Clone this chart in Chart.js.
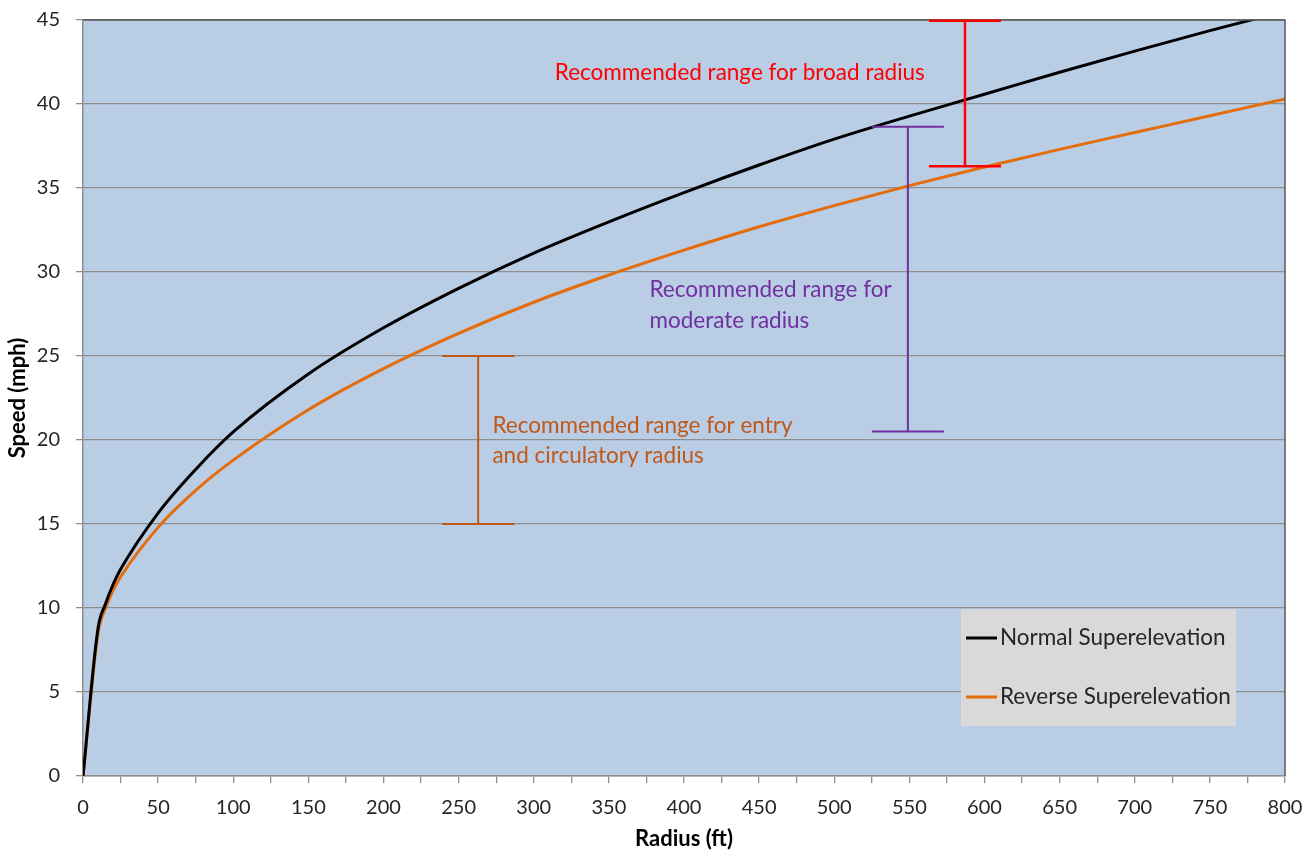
<!DOCTYPE html>
<html>
<head>
<meta charset="utf-8">
<script src="https://cdn.jsdelivr.net/npm/chart.js@4/dist/chart.umd.min.js"></script>
<style>
  html, body { margin: 0; padding: 0; background: #fff; }
  #wrap { width: 1312px; height: 854px; }
</style>
</head>
<body>
<div id="wrap"><canvas id="chart" width="1312" height="854"></canvas></div>
<script>
/* ---- data ---- */
const RADIUS = [0, 10, 15, 20, 25, 50, 75, 100, 150, 200, 250, 300, 350, 400, 450, 500, 550, 600, 650, 700, 750, 800];
const SPEED_NORMAL = [0, 8.8, 10.25, 11.4, 12.3, 15.65, 18.25, 20.48, 23.93, 26.68, 29.03, 31.13, 32.99, 34.73, 36.37, 37.91, 39.28, 40.58, 41.89, 43.15, 44.37, 45.52];
const SPEED_REVERSE = [0, 8.5, 10.0, 11.05, 11.85, 14.8, 17.0, 18.8, 21.8, 24.25, 26.35, 28.2, 29.82, 31.3, 32.69, 33.95, 35.14, 36.25, 37.3, 38.3, 39.3, 40.3];
const SERIES_NAMES = ['Normal Superelevation', 'Reverse Superelevation'];

// recommended ranges (vertical I-bars)
const RANGE_RADIUS = [263, 549, 587];
const RANGE_LOW = [15, 20.5, 36.3];
const RANGE_HIGH = [25, 38.65, 44.95];
const RANGE_LABELS = [
    ['Recommended range for entry', 'and circulatory radius'],
    ['Recommended range for', 'moderate radius'],
    ['Recommended range for broad radius']
];

const X_MIN = 0, X_MAX = 800, X_STEP = 25;
const Y_MIN = 0, Y_MAX = 45, Y_STEP = 5;

/* ---- styles ---- */
const FONT = 'Lato';
const LINE_COLORS = ['#000000', '#E46C0A'];
const RANGE_COLORS = ['#C0581A', '#7030A0', '#FF0000'];
const RANGE_WIDTHS = [2, 2, 2.5];
// where each note's first line starts (x, y in data units)
const NOTE_ANCHORS = [[272.5, 20.85], [377, 28.93], [314, 41.86]];
const PLOT_BG = '#B9CDE5';
const GRID = '#8E8E8E';

Chart.defaults.font.family = FONT;

const toPoints = (xs, ys) => xs.map((x, i) => ({ x, y: ys[i] }));

/* ---- plugins ---- */
const plotArea = {
    id: 'plotArea',
    beforeDraw(chart) {
        const { ctx, chartArea: a } = chart;
        ctx.save();
        ctx.fillStyle = PLOT_BG;
        ctx.fillRect(a.left, a.top, a.right - a.left, a.bottom - a.top);
        ctx.restore();
    },
    afterDatasetsDraw(chart) {
        const { ctx, chartArea: a } = chart;
        ctx.save();
        ctx.strokeStyle = '#5a5a5a';
        ctx.lineWidth = 1.5;
        ctx.beginPath();
        ctx.moveTo(a.left, a.top); ctx.lineTo(a.right, a.top); ctx.lineTo(a.right, a.bottom);
        ctx.stroke();
        ctx.restore();
    }
};

const rangeBars = {
    id: 'rangeBars',
    afterDatasetsDraw(chart) {
        const { ctx, scales: { x, y } } = chart;
        const capHalf = 36;
        ctx.save();
        RANGE_RADIUS.forEach((r, i) => {
            const px = x.getPixelForValue(r);
            const lo = y.getPixelForValue(RANGE_LOW[i]);
            const hi = y.getPixelForValue(RANGE_HIGH[i]);
            ctx.strokeStyle = RANGE_COLORS[i];
            ctx.lineWidth = RANGE_WIDTHS[i];
            ctx.beginPath();
            ctx.moveTo(px, lo); ctx.lineTo(px, hi);
            ctx.moveTo(px - capHalf, lo); ctx.lineTo(px + capHalf, lo);
            ctx.moveTo(px - capHalf, hi); ctx.lineTo(px + capHalf, hi);
            ctx.stroke();
        });
        // notes
        ctx.font = '22.5px ' + FONT;
        ctx.textAlign = 'left';
        ctx.textBaseline = 'middle';
        RANGE_LABELS.forEach((lines, i) => {
            const [ax, ay] = NOTE_ANCHORS[i];
            const px = x.getPixelForValue(ax);
            const py = y.getPixelForValue(ay);
            ctx.fillStyle = RANGE_COLORS[i];
            lines.forEach((t, k) => ctx.fillText(t, px, py + k * 30.5));
        });
        ctx.restore();
    }
};

const boxLegend = {
    id: 'boxLegend',
    afterDraw(chart) {
        const { ctx, chartArea: a } = chart;
        const w = 275, h = 117;
        const left = a.right - 49 - w, top = a.bottom - 50 - h;
        ctx.save();
        ctx.fillStyle = '#D9D9D9';
        ctx.fillRect(left, top, w, h);
        ctx.font = '22.5px ' + FONT;
        ctx.textBaseline = 'middle';
        ctx.textAlign = 'left';
        chart.data.datasets.forEach((ds, i) => {
            const ly = top + 29 + i * 59;
            ctx.strokeStyle = ds.borderColor;
            ctx.lineWidth = 3;
            ctx.beginPath();
            ctx.moveTo(left + 5, ly); ctx.lineTo(left + 36, ly);
            ctx.stroke();
            ctx.fillStyle = '#262626';
            ctx.fillText(ds.label, left + 39, ly);
        });
        ctx.restore();
    }
};

/* ---- chart ---- */
new Chart(document.getElementById('chart').getContext('2d'), {
    type: 'scatter',
    data: {
        datasets: [
            { label: SERIES_NAMES[0], data: toPoints(RADIUS, SPEED_NORMAL), borderColor: LINE_COLORS[0], borderWidth: 3,
              showLine: true, pointRadius: 0, cubicInterpolationMode: 'monotone' },
            { label: SERIES_NAMES[1], data: toPoints(RADIUS, SPEED_REVERSE), borderColor: LINE_COLORS[1], borderWidth: 3,
              showLine: true, pointRadius: 0, cubicInterpolationMode: 'monotone' }
        ]
    },
    options: {
        responsive: false,
        animation: false,
        layout: { padding: { top: 20, right: 27, left: 0, bottom: 0 } },
        plugins: { legend: { display: false }, tooltip: { enabled: false } },
        scales: {
            x: {
                type: 'linear', min: X_MIN, max: X_MAX,
                ticks: { stepSize: X_STEP, autoSkip: false, maxRotation: 0, padding: 13, color: '#262626',
                         font: { size: 20 }, callback: v => (v % 50 === 0 ? v : '') },
                grid: { drawOnChartArea: false, drawTicks: true, tickLength: 7, color: GRID, lineWidth: 1.3 },
                border: { color: GRID, width: 1.5 },
                title: { display: true, text: 'Radius (ft)', color: '#000', font: { size: 22, weight: 'bold' },
                         padding: { top: 0, bottom: 2 } },
                afterFit: s => { s.height = 78; s.paddingLeft = 0; s.paddingRight = 0; }
            },
            y: {
                min: Y_MIN, max: Y_MAX,
                ticks: { stepSize: Y_STEP, padding: 16, color: '#262626', font: { size: 20 } },
                grid: { color: GRID, lineWidth: 1.3, drawTicks: true, tickLength: 7 },
                border: { color: GRID, width: 1.5 },
                title: { display: true, text: 'Speed (mph)', color: '#000', font: { size: 22, weight: 'bold' },
                         padding: { top: 5, bottom: 0 } },
                afterFit: s => { s.width = 83; s.paddingTop = 0; s.paddingBottom = 0; }
            }
        }
    },
    plugins: [plotArea, rangeBars, boxLegend]
});
</script>
</body>
</html>
